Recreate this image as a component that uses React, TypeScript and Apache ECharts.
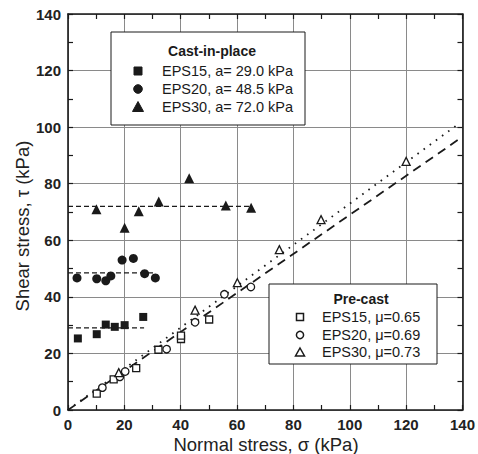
import React, { useEffect, useRef } from "react";
import * as echarts from "echarts";

// Cast-in-place (filled markers)
const castX15 = [3.5, 10.2, 13.4, 16.6, 20.1, 26.7];
const castY15 = [25.3, 26.8, 30.2, 29.4, 30.0, 32.9];
const castX20 = [3.2, 10.2, 13.4, 15.2, 19.2, 23.2, 27.2, 31.0];
const castY20 = [46.7, 46.4, 45.7, 47.4, 53.0, 53.6, 48.2, 46.7];
const castX30 = [10.1, 20.1, 25.1, 32.2, 43.0, 56.0, 65.0];
const castY30 = [71.0, 64.4, 70.3, 73.7, 81.9, 72.3, 71.5];

// Cohesion lines a (kPa) and the sigma range they span
const cohesion = [29.0, 48.5, 72.0];
const cohesionEnd = [27, 31, 65];

// Pre-cast (hollow markers)
const preX15 = [10.2, 16.2, 24.2, 32.1, 40.1, 40.1, 50.1];
const preY15 = [5.8, 10.8, 14.8, 21.3, 25.1, 26.3, 32.0];
const preX20 = [12.2, 18.4, 20.3, 35.0, 45.1, 55.5, 64.9];
const preY20 = [7.9, 11.7, 13.6, 21.5, 31.0, 40.9, 43.5];
const preX30 = [18.0, 45.1, 60.1, 75.0, 89.8, 120.0];
const preY30 = [13.2, 35.3, 45.0, 56.7, 67.3, 87.9];

// Friction fit lines (endpoints)
const dashedFitX = [0, 140];
const dashedFitY = [0, 96.6];
const dottedFitX = [0, 138];
const dottedFitY = [0, 100.7];

const castLegend = ["EPS15, a= 29.0 kPa", "EPS20, a= 48.5 kPa", "EPS30, a= 72.0 kPa"];
const preLegend = ["EPS15, μ=0.65", "EPS20, μ=0.69", "EPS30, μ=0.73"];

const FONT = "'Liberation Sans', Arial, sans-serif";
const INK = "#1a1a1a";

const zip = (xs: number[], ys: number[]) => xs.map((x, i) => [x, ys[i]]);

function axisBase(pos: string, showLabel: boolean, showSplit: boolean) {
  return {
    type: "value",
    position: pos,
    min: 0,
    max: 140,
    interval: 20,
    axisLine: { show: true, onZero: false, lineStyle: { color: INK, width: 1.6 } },
    axisTick: { show: true, inside: true, length: 5, lineStyle: { color: INK, width: 1.2 } },
    minorTick: { show: true, splitNumber: 2, length: 5, lineStyle: { color: INK, width: 1.2 } },
    splitLine: { show: showSplit, lineStyle: { color: "#8a8a8a", width: 1 } },
    axisLabel: {
      show: showLabel,
      fontFamily: FONT,
      fontWeight: "bold",
      fontSize: 15,
      color: "#222",
      margin: 7,
    },
  };
}

export default function App() {
  const ref = useRef<HTMLDivElement>(null);
  useEffect(() => {
    if (!ref.current) return;
    const chart = echarts.init(ref.current, null, { renderer: "svg" });

    const markerFill = (shape: string, cx: number, cy: number, hollow: boolean) => {
      const style = hollow
        ? { fill: "#fff", stroke: INK, lineWidth: 1.5 }
        : { fill: INK, stroke: INK, lineWidth: 1 };
      if (shape === "rect") {
        const s = hollow ? 7 : 8;
        return { type: "rect", shape: { x: cx - s / 2, y: cy - s / 2, width: s, height: s }, style };
      }
      if (shape === "circle") {
        return { type: "circle", shape: { cx, cy, r: hollow ? 3.6 : 4.3 }, style };
      }
      const h = hollow ? 8 : 10;
      return {
        type: "polygon",
        shape: { points: [[cx, cy - h / 2], [cx + h / 2 + 0.5, cy + h / 2], [cx - h / 2 - 0.5, cy + h / 2]] },
        style,
      };
    };

    const shapes = ["rect", "circle", "triangle"];
    const castRows = [71, 89, 106.5];
    const preRows = [317, 335, 352];

    const graphics: any[] = [
      { type: "rect", z: 100, shape: { x: 111, y: 32, width: 194, height: 93 }, style: { fill: "#fff", stroke: INK, lineWidth: 1 } },
      { type: "text", z: 101, x: 212, y: 51, style: { text: "Cast-in-place", font: `bold 14px ${FONT}`, fill: INK, align: "center", verticalAlign: "middle" } },
      ...castLegend.map((t, i) => ({ type: "text", z: 101, x: 162, y: castRows[i], style: { text: t, font: `14.5px ${FONT}`, fill: INK, align: "left", verticalAlign: "middle" } })),
      ...shapes.map((s, i) => ({ z: 101, ...markerFill(s, 138, castRows[i], false) })),
      { type: "rect", z: 100, shape: { x: 269, y: 284, width: 168, height: 80 }, style: { fill: "#fff", stroke: INK, lineWidth: 1 } },
      { type: "text", z: 101, x: 361, y: 299, style: { text: "Pre-cast", font: `bold 14px ${FONT}`, fill: INK, align: "center", verticalAlign: "middle" } },
      ...preLegend.map((t, i) => ({ type: "text", z: 101, x: 322, y: preRows[i], style: { text: t, font: `14.5px ${FONT}`, fill: INK, align: "left", verticalAlign: "middle" } })),
      ...shapes.map((s, i) => ({ z: 101, ...markerFill(s, 300, preRows[i], true) })),
      { type: "text", z: 101, x: 266, y: 444, style: { text: "Normal stress, σ (kPa)", font: `18.5px ${FONT}`, fill: "#222", align: "center", verticalAlign: "middle" } },
      { type: "text", z: 101, x: 22, y: 226, rotation: Math.PI / 2, style: { text: "Shear stress, τ (kPa)", font: `18.5px ${FONT}`, fill: "#222", align: "center", verticalAlign: "middle" } },
    ];

    const lineSeries = (data: number[][], type: any, width: number) => ({
      type: "line",
      data,
      symbol: "none",
      silent: true,
      z: 2,
      lineStyle: { color: INK, width, type },
    });

    const scatter = (data: number[][], symbol: string, size: number, hollow: boolean) => ({
      type: "scatter",
      data,
      symbol,
      symbolSize: size,
      z: 5,
      itemStyle: hollow
        ? { color: "#fff", borderColor: INK, borderWidth: 1.3, opacity: 1 }
        : { color: INK, borderColor: INK, borderWidth: 0, opacity: 1 },
    });

    chart.setOption({
      animation: false,
      grid: { left: 68, right: 13, top: 14, bottom: 44, containLabel: false },
      xAxis: [axisBase("bottom", true, true), axisBase("top", false, false)],
      yAxis: [axisBase("left", true, true), axisBase("right", false, false)],
      graphic: graphics,
      series: [
        ...cohesion.map((a, i) => lineSeries([[0, a], [cohesionEnd[i], a]], [5, 3], 1.3)),
        lineSeries(zip(dashedFitX, dashedFitY), [9, 6], 1.8),
        lineSeries(zip(dottedFitX, dottedFitY), [1.6, 6], 1.8),
        scatter(zip(castX15, castY15), "rect", 8, false),
        scatter(zip(castX20, castY20), "circle", 9, false),
        scatter(zip(castX30, castY30), "triangle", 10, false),
        scatter(zip(preX15, preY15), "rect", 7, true),
        scatter(zip(preX20, preY20), "circle", 7.5, true),
        scatter(zip(preX30, preY30), "triangle", 8, true),
      ],
    });
    return () => chart.dispose();
  }, []);
  return <div ref={ref} style={{ width: 478, height: 454, position: "absolute", left: 0, top: 0 }} />;
}
